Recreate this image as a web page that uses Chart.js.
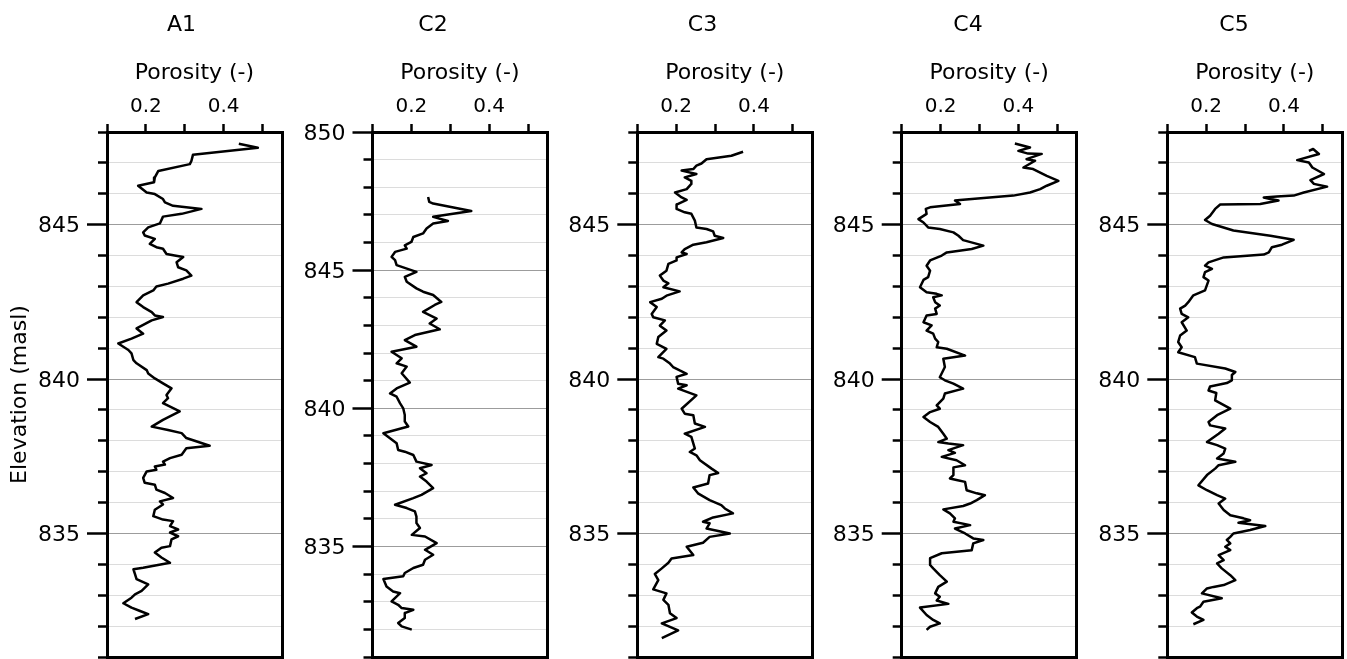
<!DOCTYPE html>
<html>
<head>
<meta charset="utf-8">
<title>Porosity logs</title>
<script src="https://cdn.jsdelivr.net/npm/chart.js@4.4.0/dist/chart.umd.min.js"></script>
<style>
  html, body { margin: 0; padding: 0; background: #fff; overflow: hidden; }
  #wrap { position: relative; width: 1347px; height: 659px; }
  #wrap canvas { position: absolute; top: 0; }
</style>
</head>
<body>
<div id="wrap"></div>
<script>
// --- data (elevation in masl, porosity -) ---
const panelNames = ['A1', 'C2', 'C3', 'C4', 'C5'];
const porosityLabels = [0.2, 0.4];

const a1Elev = [847.62, 847.49, 847.26, 847.06, 846.96, 846.74, 846.53, 846.37, 846.26, 846.04, 845.99, 845.83, 845.72, 845.61, 845.51, 845.35, 845.26, 845.04, 844.91, 844.75, 844.65, 844.54, 844.38, 844.27, 844.22, 844.05, 844.00, 843.95, 843.78, 843.62, 843.52, 843.35, 843.25, 843.09, 843.00, 842.87, 842.71, 842.49, 842.33, 842.17, 842.06, 842.01, 841.90, 841.64, 841.47, 841.31, 841.15, 840.94, 840.83, 840.61, 840.51, 840.29, 840.18, 840.02, 839.86, 839.70, 839.48, 839.38, 839.22, 838.95, 838.68, 838.46, 838.35, 838.25, 838.09, 837.84, 837.76, 837.55, 837.44, 837.33, 837.23, 837.17, 837.06, 837.01, 836.80, 836.64, 836.58, 836.42, 836.31, 836.15, 836.04, 835.94, 835.77, 835.56, 835.45, 835.40, 835.24, 835.13, 835.03, 834.91, 834.81, 834.59, 834.54, 834.38, 834.22, 834.05, 833.89, 833.84, 833.68, 833.52, 833.35, 833.14, 833.03, 832.92, 832.74, 832.60, 832.49, 832.39, 832.23];
const a1Poro = [0.439, 0.488, 0.321, 0.317, 0.313, 0.232, 0.223, 0.221, 0.180, 0.202, 0.223, 0.244, 0.249, 0.270, 0.343, 0.292, 0.244, 0.236, 0.206, 0.193, 0.197, 0.223, 0.210, 0.227, 0.244, 0.253, 0.274, 0.296, 0.279, 0.283, 0.304, 0.317, 0.296, 0.257, 0.227, 0.219, 0.193, 0.176, 0.193, 0.215, 0.223, 0.244, 0.215, 0.176, 0.193, 0.163, 0.129, 0.155, 0.163, 0.168, 0.176, 0.202, 0.206, 0.223, 0.244, 0.266, 0.253, 0.257, 0.244, 0.287, 0.244, 0.215, 0.257, 0.292, 0.304, 0.364, 0.304, 0.292, 0.262, 0.244, 0.249, 0.223, 0.227, 0.202, 0.193, 0.197, 0.223, 0.227, 0.249, 0.270, 0.236, 0.244, 0.223, 0.219, 0.244, 0.270, 0.262, 0.283, 0.262, 0.283, 0.266, 0.262, 0.240, 0.223, 0.240, 0.262, 0.193, 0.168, 0.172, 0.176, 0.206, 0.189, 0.172, 0.163, 0.142, 0.163, 0.185, 0.206, 0.172];

const c2Elev = [847.65, 847.47, 847.41, 847.14, 846.93, 846.78, 846.69, 846.51, 846.33, 846.20, 846.02, 845.90, 845.78, 845.66, 845.48, 845.36, 845.18, 844.94, 844.76, 844.58, 844.34, 844.22, 844.10, 843.85, 843.74, 843.49, 843.25, 843.07, 842.86, 842.65, 842.47, 842.23, 842.05, 841.81, 841.63, 841.51, 841.27, 840.93, 840.72, 840.54, 840.42, 840.18, 840.00, 839.76, 839.52, 839.34, 839.10, 838.74, 838.49, 838.43, 838.31, 838.07, 837.95, 837.83, 837.65, 837.53, 837.35, 837.11, 836.87, 836.75, 836.51, 836.39, 836.27, 836.08, 835.85, 835.67, 835.42, 835.36, 835.12, 834.88, 834.70, 834.52, 834.34, 834.22, 834.04, 833.92, 833.82, 833.55, 833.37, 833.31, 833.01, 832.89, 832.77, 832.71, 832.59, 832.41, 832.23, 832.11, 831.99];
const c2Poro = [0.243, 0.246, 0.256, 0.354, 0.256, 0.294, 0.256, 0.239, 0.230, 0.205, 0.200, 0.183, 0.188, 0.158, 0.149, 0.158, 0.162, 0.213, 0.183, 0.188, 0.213, 0.230, 0.256, 0.277, 0.260, 0.230, 0.265, 0.247, 0.273, 0.209, 0.183, 0.213, 0.149, 0.175, 0.162, 0.188, 0.175, 0.196, 0.162, 0.145, 0.162, 0.171, 0.179, 0.183, 0.183, 0.192, 0.128, 0.162, 0.166, 0.183, 0.205, 0.213, 0.252, 0.222, 0.239, 0.222, 0.239, 0.256, 0.226, 0.205, 0.158, 0.188, 0.209, 0.213, 0.213, 0.222, 0.201, 0.235, 0.265, 0.235, 0.256, 0.235, 0.230, 0.205, 0.183, 0.179, 0.128, 0.136, 0.153, 0.171, 0.149, 0.166, 0.175, 0.205, 0.183, 0.183, 0.166, 0.175, 0.201];

const c3Elev = [847.36, 847.23, 847.12, 846.98, 846.91, 846.80, 846.75, 846.64, 846.53, 846.42, 846.32, 846.15, 846.04, 845.88, 845.80, 845.65, 845.51, 845.40, 845.35, 845.13, 844.91, 844.86, 844.78, 844.64, 844.57, 844.43, 844.35, 844.21, 844.10, 844.05, 843.94, 843.84, 843.73, 843.51, 843.35, 843.19, 843.10, 842.97, 842.84, 842.70, 842.60, 842.49, 842.33, 842.11, 842.00, 841.90, 841.73, 841.57, 841.36, 841.14, 840.98, 840.71, 840.66, 840.50, 840.39, 840.28, 840.17, 840.07, 839.85, 839.80, 839.69, 839.47, 839.04, 838.88, 838.83, 838.56, 838.45, 838.23, 838.13, 837.75, 837.64, 837.53, 837.37, 837.10, 836.96, 836.89, 836.62, 836.49, 836.30, 836.08, 835.92, 835.81, 835.65, 835.52, 835.38, 835.33, 835.16, 835.00, 834.89, 834.70, 834.57, 834.30, 834.19, 834.05, 833.87, 833.69, 833.49, 833.19, 833.06, 832.85, 832.69, 832.42, 832.26, 832.09, 831.86, 831.61];
const c3Poro = [0.372, 0.342, 0.278, 0.265, 0.252, 0.244, 0.214, 0.252, 0.222, 0.239, 0.239, 0.227, 0.197, 0.214, 0.227, 0.201, 0.201, 0.222, 0.239, 0.248, 0.252, 0.278, 0.295, 0.299, 0.321, 0.278, 0.244, 0.222, 0.214, 0.227, 0.201, 0.201, 0.180, 0.175, 0.158, 0.167, 0.180, 0.167, 0.209, 0.175, 0.163, 0.133, 0.150, 0.137, 0.141, 0.171, 0.158, 0.175, 0.154, 0.150, 0.175, 0.154, 0.167, 0.184, 0.192, 0.209, 0.227, 0.201, 0.205, 0.227, 0.205, 0.252, 0.214, 0.222, 0.244, 0.248, 0.274, 0.222, 0.239, 0.248, 0.235, 0.252, 0.261, 0.291, 0.308, 0.286, 0.282, 0.244, 0.256, 0.286, 0.316, 0.325, 0.346, 0.295, 0.269, 0.286, 0.278, 0.338, 0.286, 0.269, 0.227, 0.244, 0.188, 0.180, 0.163, 0.145, 0.154, 0.141, 0.175, 0.167, 0.180, 0.184, 0.201, 0.163, 0.205, 0.163];

const c4Elev = [847.63, 847.50, 847.39, 847.30, 847.29, 847.12, 847.07, 846.85, 846.80, 846.58, 846.42, 846.26, 846.15, 846.04, 845.94, 845.80, 845.78, 845.67, 845.56, 845.51, 845.35, 845.18, 845.07, 844.91, 844.86, 844.75, 844.64, 844.50, 844.32, 844.21, 844.10, 844.00, 843.84, 843.67, 843.51, 843.30, 843.21, 842.97, 842.81, 842.76, 842.71, 842.65, 842.49, 842.38, 842.28, 842.11, 842.06, 841.84, 841.74, 841.57, 841.47, 841.31, 841.20, 841.03, 840.98, 840.76, 840.66, 840.39, 840.06, 839.96, 839.85, 839.69, 839.53, 839.37, 839.15, 839.04, 838.93, 838.77, 838.61, 838.45, 838.23, 838.07, 837.96, 837.91, 837.86, 837.70, 837.61, 837.48, 837.37, 837.21, 837.14, 836.89, 836.78, 836.73, 836.67, 836.40, 836.30, 836.24, 836.08, 835.97, 835.89, 835.78, 835.65, 835.49, 835.38, 835.27, 835.16, 835.00, 834.84, 834.79, 834.68, 834.46, 834.36, 834.20, 833.98, 833.87, 833.65, 833.44, 833.27, 833.06, 832.95, 832.83, 832.72, 832.60, 832.36, 832.20, 832.09, 831.98, 831.88];
const c4Poro = [0.391, 0.430, 0.400, 0.425, 0.460, 0.421, 0.443, 0.413, 0.438, 0.473, 0.503, 0.473, 0.456, 0.430, 0.387, 0.250, 0.237, 0.250, 0.173, 0.162, 0.164, 0.143, 0.156, 0.168, 0.198, 0.233, 0.246, 0.258, 0.310, 0.280, 0.216, 0.203, 0.173, 0.164, 0.173, 0.168, 0.156, 0.147, 0.164, 0.190, 0.203, 0.181, 0.186, 0.198, 0.186, 0.190, 0.164, 0.156, 0.177, 0.164, 0.181, 0.186, 0.194, 0.190, 0.216, 0.263, 0.207, 0.211, 0.198, 0.211, 0.233, 0.258, 0.211, 0.207, 0.190, 0.198, 0.173, 0.156, 0.173, 0.194, 0.207, 0.216, 0.194, 0.220, 0.258, 0.220, 0.237, 0.203, 0.241, 0.263, 0.233, 0.233, 0.224, 0.241, 0.263, 0.267, 0.293, 0.314, 0.293, 0.276, 0.258, 0.207, 0.224, 0.237, 0.233, 0.276, 0.237, 0.263, 0.284, 0.310, 0.284, 0.280, 0.203, 0.173, 0.173, 0.181, 0.198, 0.216, 0.194, 0.186, 0.198, 0.190, 0.220, 0.147, 0.164, 0.181, 0.198, 0.173, 0.164];

const c5Elev = [847.39, 847.45, 847.29, 847.09, 847.01, 846.85, 846.64, 846.44, 846.32, 846.23, 846.04, 845.94, 845.91, 845.88, 845.83, 845.78, 845.67, 845.65, 845.51, 845.29, 845.15, 845.02, 844.81, 844.64, 844.51, 844.35, 844.27, 844.10, 844.03, 843.94, 843.78, 843.67, 843.57, 843.46, 843.30, 843.19, 842.87, 842.71, 842.49, 842.38, 842.28, 842.11, 842.00, 841.84, 841.57, 841.41, 841.20, 841.03, 840.87, 840.71, 840.50, 840.34, 840.23, 840.13, 839.96, 839.87, 839.76, 839.63, 839.55, 839.31, 839.04, 838.83, 838.61, 838.50, 838.40, 838.23, 837.96, 837.86, 837.75, 837.59, 837.43, 837.32, 837.21, 837.10, 836.89, 836.56, 836.40, 836.24, 836.13, 835.97, 835.76, 835.59, 835.49, 835.43, 835.35, 835.24, 835.11, 835.00, 834.89, 834.79, 834.68, 834.57, 834.46, 834.30, 834.14, 834.03, 833.87, 833.65, 833.49, 833.33, 833.27, 833.22, 833.06, 832.90, 832.79, 832.63, 832.58, 832.44, 832.31, 832.20, 832.06];
const c5Poro = [0.464, 0.475, 0.490, 0.434, 0.464, 0.473, 0.503, 0.468, 0.477, 0.511, 0.451, 0.425, 0.382, 0.348, 0.365, 0.386, 0.339, 0.236, 0.223, 0.210, 0.197, 0.215, 0.270, 0.365, 0.425, 0.395, 0.369, 0.361, 0.348, 0.245, 0.206, 0.197, 0.215, 0.197, 0.193, 0.206, 0.197, 0.167, 0.154, 0.146, 0.133, 0.137, 0.154, 0.137, 0.150, 0.133, 0.128, 0.137, 0.128, 0.171, 0.176, 0.249, 0.275, 0.266, 0.266, 0.253, 0.210, 0.206, 0.226, 0.223, 0.262, 0.228, 0.206, 0.210, 0.249, 0.232, 0.202, 0.228, 0.249, 0.245, 0.228, 0.275, 0.232, 0.223, 0.202, 0.180, 0.202, 0.228, 0.249, 0.232, 0.245, 0.262, 0.296, 0.313, 0.283, 0.352, 0.313, 0.270, 0.262, 0.253, 0.262, 0.249, 0.262, 0.232, 0.245, 0.228, 0.240, 0.262, 0.275, 0.245, 0.219, 0.202, 0.189, 0.240, 0.193, 0.184, 0.176, 0.163, 0.176, 0.193, 0.167];

const panelElev = [a1Elev, c2Elev, c3Elev, c4Elev, c5Elev];
const panelPoro = [a1Poro, c2Poro, c3Poro, c4Poro, c5Poro];
const elevTop = [848, 850, 848, 848, 848];
const elevBottom = 831;
const poroMin = 0.1, poroMax = 0.55;

// --- page layout (pixels) ---
const plotLefts = [107, 372.5, 637.3, 901.7, 1167.3];
const titleCenters = [181.7, 433, 702.5, 968, 1234];
const PLOT_W = 175, PLOT_TOP = 132, PLOT_BOTTOM = 657, PAGE_H = 659;
const TITLE_H = 38;
const FONT = "'DejaVu Sans', sans-serif";

Chart.defaults.font.family = FONT;
Chart.defaults.color = '#000';

const wrap = document.getElementById('wrap');
const isMajor = v => Math.abs(v % 5) < 1e-9;

panelNames.forEach((name, i) => {
    const axisW = i === 0 ? 107 : 80;
    const left = Math.round(plotLefts[i] - axisW);
    const yAxisW = plotLefts[i] - left;
    const width = Math.round(2 * (titleCenters[i] - left));
    const rightW = left + width - (plotLefts[i] + PLOT_W);

    const canvas = document.createElement('canvas');
    canvas.width = width;
    canvas.height = PAGE_H;
    canvas.style.left = left + 'px';
    wrap.appendChild(canvas);

    const points = panelElev[i].map((e, k) => ({ x: panelPoro[i][k], y: e }));

    new Chart(canvas, {
        type: 'scatter',
        data: {
            datasets: [{
                data: points,
                showLine: true,
                borderColor: '#000',
                borderWidth: 2.5,
                borderJoinStyle: 'round',
                pointRadius: 0,
                tension: 0,
                fill: false
            }]
        },
        options: {
            responsive: false,
            devicePixelRatio: 1,
            animation: false,
            layout: { padding: 0 },
            plugins: {
                legend: { display: false },
                tooltip: { enabled: false },
                title: {
                    display: true, text: name, color: '#000',
                    font: { family: FONT, size: 22, weight: 'normal' },
                    padding: { top: 11.6, bottom: 0 }
                }
            },
            scales: {
                x: {
                    type: 'linear', position: 'top', min: poroMin, max: poroMax,
                    ticks: {
                        stepSize: 0.1, autoSkip: false, maxRotation: 0, includeBounds: false,
                        padding: 5, color: '#000', font: { family: FONT, size: 20 },
                        callback: v => porosityLabels.some(t => Math.abs(t - v) < 1e-6) ? v.toFixed(1) : ''
                    },
                    grid: { drawOnChartArea: false, tickLength: 8, tickColor: '#000', tickWidth: 2.5 },
                    border: { color: '#000', width: 3 },
                    title: {
                        display: true, text: 'Porosity (-)', color: '#000',
                        font: { family: FONT, size: 22 }, padding: { top: 21.8, bottom: 0 }
                    },
                    afterFit: s => { s.height = PLOT_TOP - TITLE_H; s.paddingLeft = 0; s.paddingRight = 0; }
                },
                y: {
                    type: 'linear', position: 'left', min: elevBottom, max: elevTop[i],
                    ticks: {
                        stepSize: 1, autoSkip: false, padding: 7, labelOffset: 2,
                        color: '#000', font: { family: FONT, size: 22 },
                        callback: v => isMajor(v) ? String(v) : ''
                    },
                    grid: {
                        color: c => (c.tick && isMajor(c.tick.value)) ? '#9c9c9c' : '#dcdcdc',
                        lineWidth: 1, tickLength: 20, tickColor: '#000', tickWidth: 2.5,
                        // minor ticks: only the inner 9px of the 20px tick is drawn
                        tickBorderDash: c => (c.tick && isMajor(c.tick.value)) ? [] : [0, 11, 30]
                    },
                    border: { color: '#000', width: 3 },
                    title: {
                        display: i === 0, text: 'Elevation (masl)', color: '#000',
                        font: { family: FONT, size: 22 }, padding: { top: 6.6, bottom: 0 }
                    },
                    afterFit: s => { s.width = yAxisW; s.paddingTop = 0; s.paddingBottom = 0; }
                },
                y2: {
                    type: 'linear', position: 'right', min: 0, max: 1,
                    ticks: { display: false },
                    grid: { display: false, drawTicks: false, lineWidth: 3 },
                    border: { color: '#000', width: 3 },
                    afterFit: s => { s.width = rightW; s.paddingTop = 0; s.paddingBottom = 0; }
                },
                x2: {
                    type: 'linear', position: 'bottom', min: 0, max: 1,
                    ticks: { display: false },
                    grid: { display: false, drawTicks: false, lineWidth: 3 },
                    border: { color: '#000', width: 3 },
                    afterFit: s => { s.height = PAGE_H - PLOT_BOTTOM; s.paddingLeft = 0; s.paddingRight = 0; }
                }
            }
        }
    });
});
</script>
</body>
</html>
